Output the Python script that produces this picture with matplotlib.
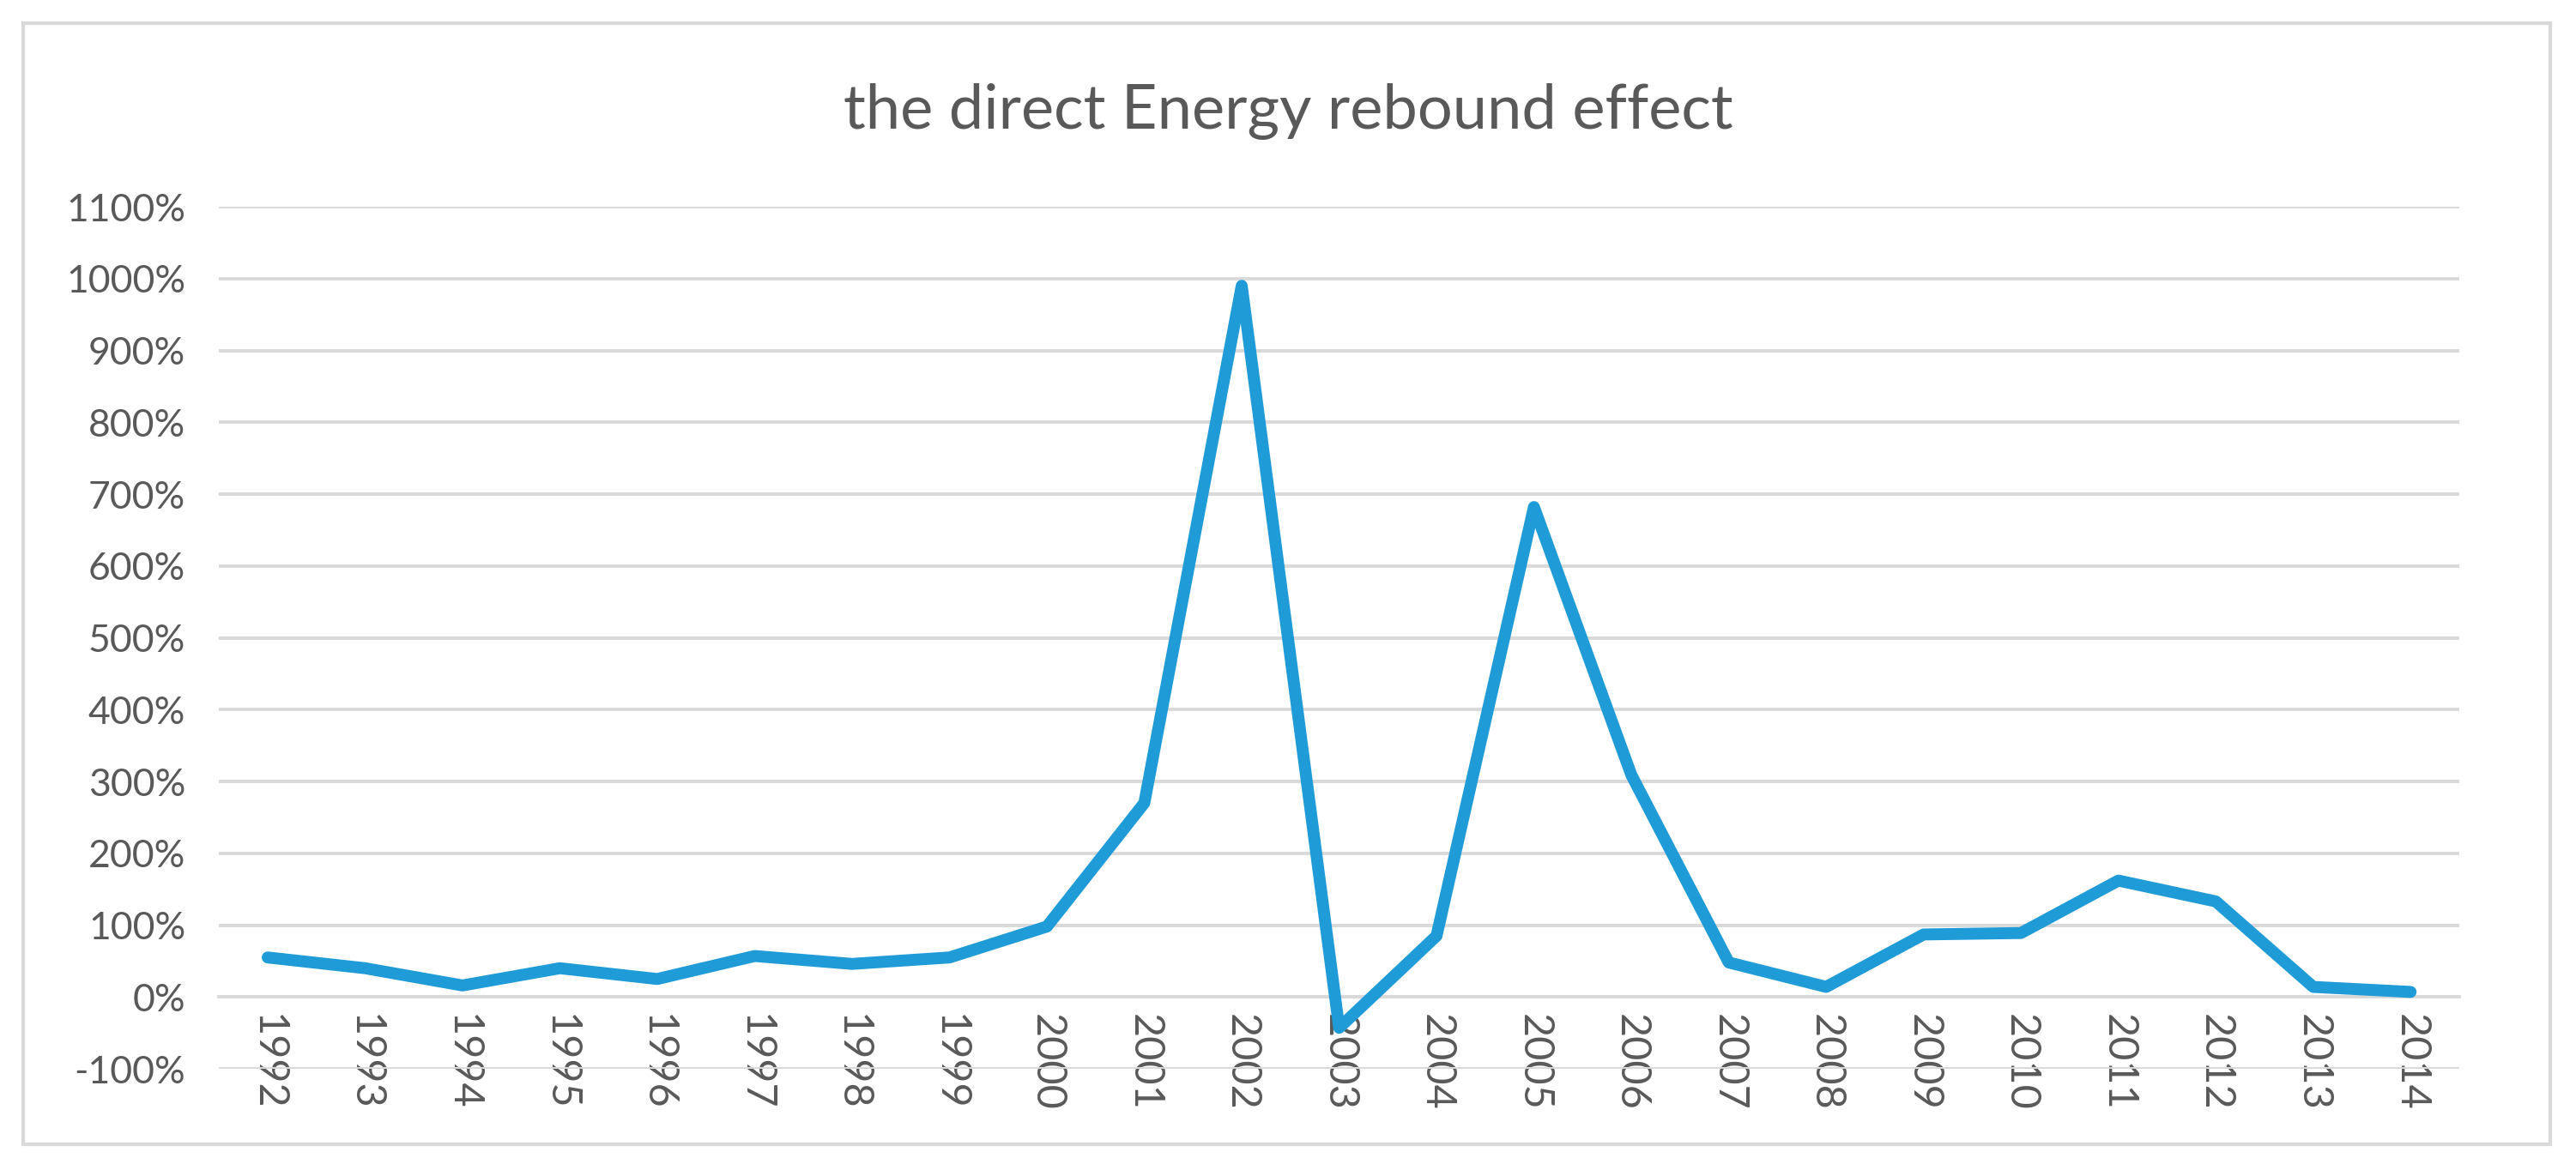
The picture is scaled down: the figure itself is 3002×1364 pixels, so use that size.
import numpy as np
import matplotlib.pyplot as plt
from matplotlib.patches import Rectangle
from matplotlib.ticker import FuncFormatter

# rebound effect per year, in percent
years = ['1992', '1993', '1994', '1995', '1996', '1997', '1998', '1999', '2000', '2001', '2002',
         '2003', '2004', '2005', '2006', '2007', '2008', '2009', '2010', '2011', '2012', '2013', '2014']
rebound = [55, 40, 16, 40, 25, 57, 46, 55, 98, 270, 990,
           -43, 85, 682, 309, 48, 14, 87, 89, 162, 133, 14, 7]
y_ticks = list(range(-100, 1101, 100))

plt.rcParams['font.family'] = ['Lato', 'DejaVu Sans']

fig = plt.figure(figsize=(15.01, 6.82), dpi=200)
ax = fig.add_axes([0.085, 0.0865, 0.8697, 0.7368])

x = np.arange(len(years))
ax.plot(x, rebound, color='#1f9bd8', lw=5, solid_joinstyle='round', solid_capstyle='round', zorder=3)

ax.set_xlim(-0.5, len(years) - 0.5)
ax.set_ylim(-100, 1100)
ax.set_yticks(y_ticks)
ax.yaxis.set_major_formatter(FuncFormatter(lambda v, p: f'{v:.0f}%'))
ax.grid(axis='y', color='#d9d9d9', lw=1.4)
ax.set_axisbelow(True)

for s in ['top', 'right', 'left']:
    ax.spines[s].set_visible(False)
ax.spines['bottom'].set_position(('data', 0))
ax.spines['bottom'].set_color('#d9d9d9')
ax.spines['bottom'].set_linewidth(1.4)

ax.set_xticks(x)
ax.set_xticklabels(years, rotation=270, fontsize=17.5, color='#595959')
ax.tick_params(axis='x', length=0, pad=7)
ax.tick_params(axis='y', length=0, pad=14, labelsize=16, labelcolor='#595959')

fig.text(0.5, 0.905, 'the direct Energy rebound effect', ha='center', va='center',
         fontsize=26, color='#595959')

fig.patches.append(Rectangle((0.009, 0.022), 0.981, 0.958, transform=fig.transFigure,
                             fill=False, edgecolor='#d9d9d9', lw=1.5))

fig.savefig('out.png', dpi=200, facecolor='white')
